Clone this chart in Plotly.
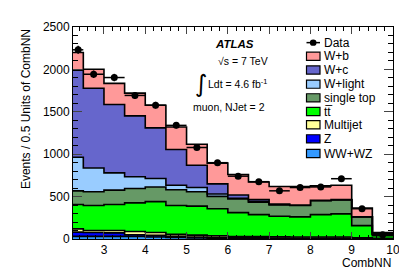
import numpy as np
import plotly.graph_objects as go

# ---------------- data ----------------
bin_edges = [2.25, 2.5, 3.0, 3.5, 4.0, 4.5, 5.0, 5.5, 6.0, 6.5, 7.0, 7.5, 8.0, 8.5, 9.0, 9.5, 10.0]

ww_wz     = [31, 31, 31, 31, 23, 19, 12, 10, 8, 7, 6, 6, 6, 6, 4, 2]
z_jets    = [50, 46, 41, 19, 20, 12, 11, 9, 8, 7, 6, 6, 6, 6, 4, 2]
multijet  = [38, 23, 28, 39, 34, 23, 23, 19, 14, 14, 13, 12, 12, 12, 7, 4]
ttbar     = [288, 295, 307, 337, 364, 341, 342, 319, 281, 260, 244, 237, 264, 272, 143, 30]
single_top= [161, 162, 169, 170, 173, 185, 169, 146, 161, 146, 134, 134, 165, 165, 103, 20]
w_light   = [396, 280, 204, 138, 100, 54, 50, 27, 8, 7, 5, 3, 2, 2, 1, 1]
w_c       = [1026, 941, 806, 718, 596, 422, 263, 120, 38, 23, 4, 2, 2, 2, 1, 1]
w_b       = [210, 223, 249, 268, 268, 264, 247, 245, 242, 208, 207, 219, 169, 169, 102, 17]
data      = [2231, 1943, 1904, 1693, 1578, 1340, 1079, 900, 741, 676, 568, 607, 614, 711, 357, 50]

components = [
    ("WW+WZ", ww_wz, "#3399ff"),
    ("Z", z_jets, "#0000ff"),
    ("Multijet", multijet, "#ffff99"),
    ("tt\u0305", ttbar, "#00ff00"),
    ("single top", single_top, "#669966"),
    ("W+light", w_light, "#99ccff"),
    ("W+c", w_c, "#6666cc"),
    ("W+b", w_b, "#ff9999"),
]
legend_order = ["Data", "W+b", "W+c", "W+light", "single top", "tt\u0305", "Multijet", "Z", "WW+WZ"]

# ---------------- layout helpers ----------------
W, H = 407, 276
L, R, T, B = 65, 385, 14, 231
def px(x):
    return (x - L) / (R - L)
def py(y):
    return (B - y) / (B - T)

FONT = "Liberation Sans, Arial, Helvetica, sans-serif"

fig = go.Figure()

edges = np.array(bin_edges)
centers = 0.5 * (edges[:-1] + edges[1:])
halfw = 0.5 * (edges[1:] - edges[:-1])

cum = np.zeros(len(data))
for i, (name, vals, col) in enumerate(components):
    cum = cum + np.array(vals, dtype=float)
    yy = list(cum) + [cum[-1]]
    fig.add_trace(go.Scatter(
        x=list(edges), y=yy, mode="lines", line=dict(shape="hv", color="black", width=1.6),
        fill="tozeroy" if i == 0 else "tonexty", fillcolor=col, showlegend=False, hoverinfo="skip"))

fig.add_trace(go.Scatter(
    x=centers, y=data, mode="markers",
    marker=dict(color="black", size=7),
    error_x=dict(type="data", array=halfw, color="black", thickness=1.5, width=0),
    error_y=dict(type="data", array=np.sqrt(data), color="black", thickness=1.5, width=0),
    showlegend=False, hoverinfo="skip"))

shapes = []
annotations = []

# legend (manual)
rows = [30, 44, 58, 72.5, 86.5, 100.5, 114, 128.5, 143.5]
lx0, lx1, tx = 298.5, 312, 314
colour_of = {n: c for (n, v, c) in components}
for k, lab in enumerate(legend_order):
    yc = rows[k]
    if lab == "Data":
        shapes.append(dict(type="line", xref="paper", yref="paper", x0=px(lx0), x1=px(lx1),
                           y0=py(yc), y1=py(yc), line=dict(color="black", width=1.5)))
        shapes.append(dict(type="circle", xref="paper", yref="paper", x0=px(305.2 - 3.3), x1=px(305.2 + 3.3),
                           y0=py(yc + 3.3), y1=py(yc - 3.3), fillcolor="black", line=dict(color="black", width=0)))
    else:
        shapes.append(dict(type="rect", xref="paper", yref="paper", x0=px(lx0), x1=px(lx1),
                           y0=py(yc + 4.2), y1=py(yc - 4.2), fillcolor=colour_of[lab],
                           line=dict(color="black", width=1.2)))
    annotations.append(dict(x=px(tx), y=py(yc), xref="paper", yref="paper", text=lab, showarrow=False,
                            xanchor="left", yanchor="middle", font=dict(family=FONT, size=12, color="black")))

# text labels
annotations += [
    dict(x=px(205), y=py(31), text="<b><i>ATLAS</i></b>", xanchor="left", yanchor="middle",
         font=dict(family=FONT, size=11.5, color="black")),
    dict(x=px(208), y=py(49), text="\u221as = 7 TeV", xanchor="left", yanchor="middle",
         font=dict(family=FONT, size=10.5, color="black")),
    dict(x=px(193), y=py(72), text="\u222b", xanchor="center", yanchor="middle",
         font=dict(family="DejaVu Sans, sans-serif", size=24, color="black")),
    dict(x=px(198), y=py(72), text="Ldt = 4.6 fb<sup>-1</sup>", xanchor="left", yanchor="middle",
         font=dict(family=FONT, size=10.5, color="black")),
    dict(x=px(183), y=py(96), text="muon, NJet = 2", xanchor="left", yanchor="middle",
         font=dict(family=FONT, size=10.5, color="black")),
    dict(x=px(18), y=py(98), text="Events / 0.5 Units of CombNN", textangle=-90, xanchor="center", yanchor="middle",
         font=dict(family=FONT, size=12, color="black")),
    dict(x=1.0, y=py(256), text="CombNN", xanchor="right", yanchor="middle",
         font=dict(family=FONT, size=12, color="black")),
]
for a in annotations:
    a.setdefault("xref", "paper")
    a.setdefault("yref", "paper")
    a.setdefault("showarrow", False)

fig.update_layout(
    width=W, height=H,
    margin=dict(l=L, r=W - R, t=T, b=H - B),
    paper_bgcolor="white", plot_bgcolor="white",
    font=dict(family=FONT, size=12, color="black"),
    shapes=shapes, annotations=annotations,
    xaxis=dict(range=[2.25, 10], tick0=0, dtick=1, ticks="inside", ticklen=7, tickwidth=1,
               showline=True, linecolor="black", linewidth=1, mirror="allticks", showgrid=False,
               zeroline=False, tickfont=dict(size=12),
               minor=dict(dtick=0.2, tick0=0, ticks="inside", ticklen=4, tickcolor="black", showgrid=False)),
    yaxis=dict(range=[0, 2500], tick0=0, dtick=500, ticks="inside", ticklen=9, tickwidth=1,
               showline=True, linecolor="black", linewidth=1, mirror="allticks", showgrid=False,
               zeroline=False, tickfont=dict(size=12),
               minor=dict(dtick=100, ticks="inside", ticklen=5, tickcolor="black", showgrid=False)),
)

fig.write_html("out.html")
